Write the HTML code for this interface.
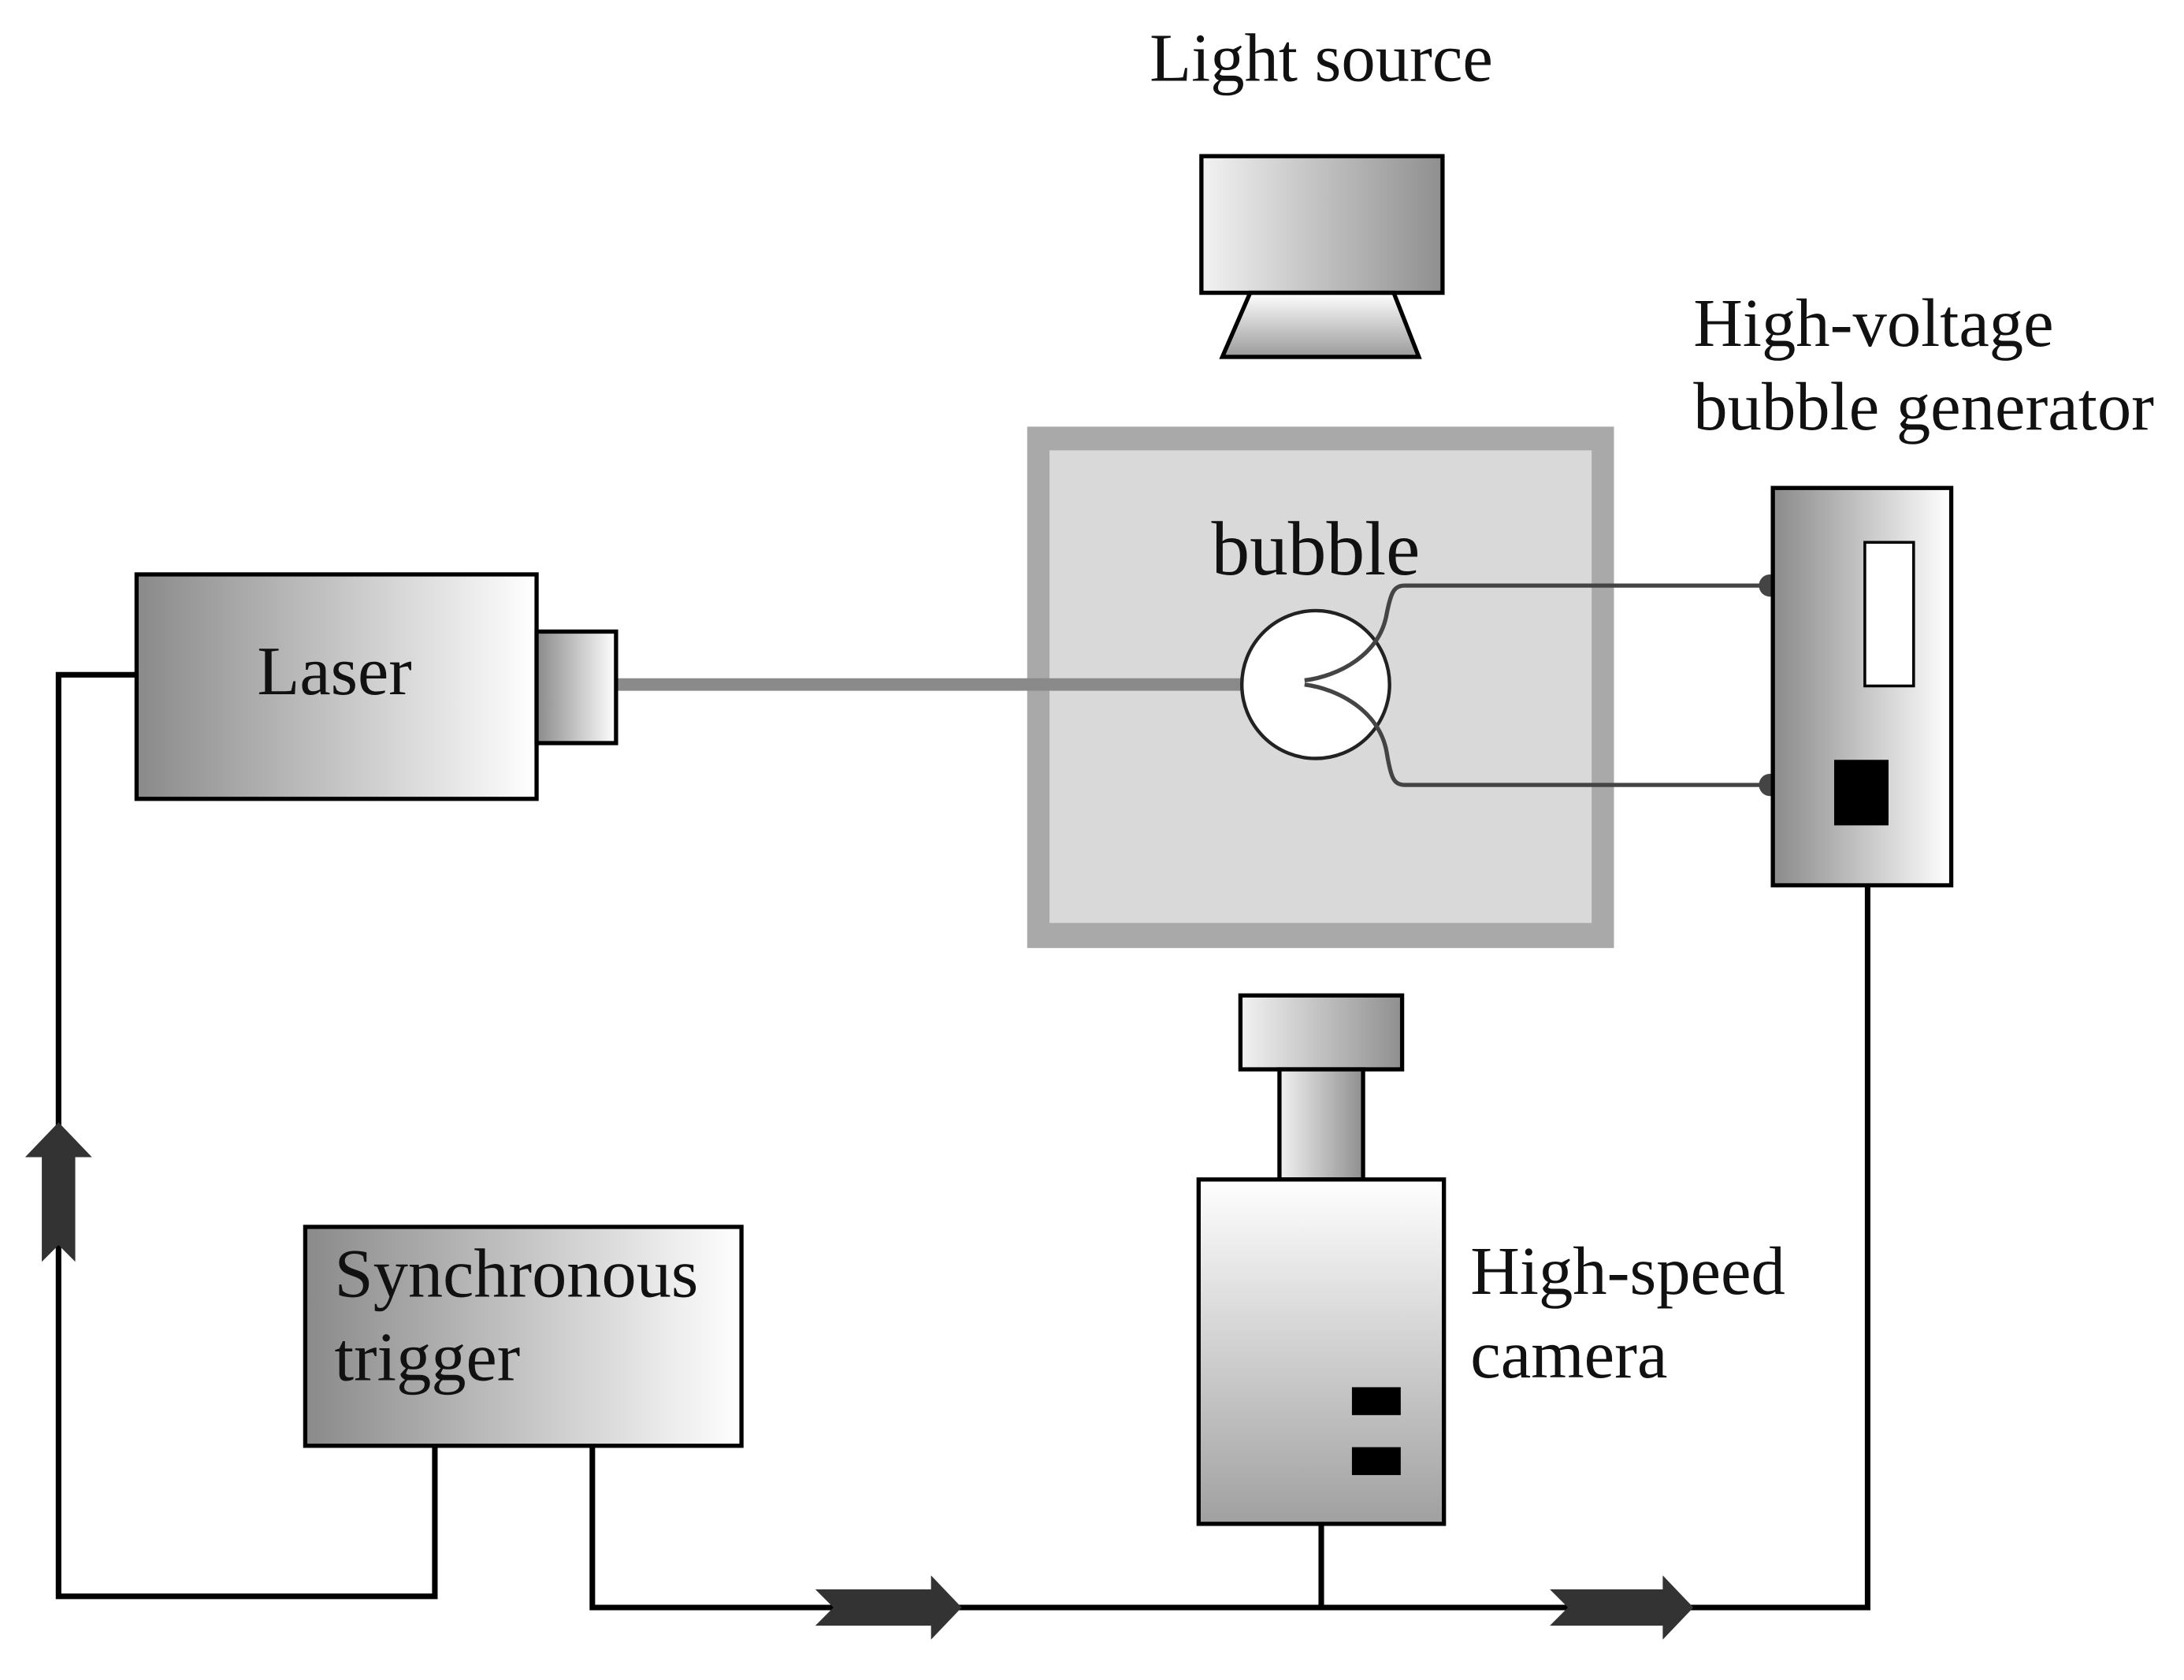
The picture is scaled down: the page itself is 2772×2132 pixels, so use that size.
<!DOCTYPE html>
<html><head><meta charset="utf-8"><style>
html,body{margin:0;padding:0;background:#fff;}
svg{display:block;}
text{font-family:"Liberation Serif",serif;fill:#111;}
</style></head><body>
<svg width="2772" height="2132" viewBox="0 0 1567 1205" preserveAspectRatio="none" xmlns="http://www.w3.org/2000/svg">
<defs>
<linearGradient id="dl" x1="0" x2="1" y1="0" y2="0"><stop offset="0" stop-color="#8a8a8a"/><stop offset="1" stop-color="#ffffff"/></linearGradient>
<linearGradient id="ld" x1="0" x2="1" y1="0" y2="0"><stop offset="0" stop-color="#f2f2f2"/><stop offset="1" stop-color="#8f8f8f"/></linearGradient>
<linearGradient id="tb" x1="0" x2="0" y1="0" y2="1"><stop offset="0" stop-color="#ffffff"/><stop offset="1" stop-color="#9a9a9a"/></linearGradient>
<linearGradient id="cam" x1="0" x2="0" y1="0" y2="1"><stop offset="0" stop-color="#ffffff"/><stop offset="1" stop-color="#a0a0a0"/></linearGradient>
</defs>

<text x="948" y="58" font-size="49" text-anchor="middle">Light source</text>
<rect x="862" y="112" width="173" height="98" fill="url(#ld)" stroke="#000" stroke-width="3"/>
<polygon points="897,210 1000,210 1018,256 877,256" fill="url(#tb)" stroke="#000" stroke-width="3"/>

<rect x="737" y="306" width="421" height="374" fill="#a9a9a9"/>
<rect x="753" y="323" width="389" height="339" fill="#d9d9d9"/>
<text x="944" y="412" font-size="55" text-anchor="middle">bubble</text>

<line x1="442" y1="491" x2="892" y2="491" stroke="#8a8a8a" stroke-width="9"/>
<circle cx="944" cy="491" r="53" fill="#fff" stroke="#222" stroke-width="2.5"/>
<path d="M936,488 C960,485 990,470 995,440 C998,425 1000,420 1008,420 L1270,420" fill="none" stroke="#444" stroke-width="3"/>
<path d="M936,491 C960,494 990,510 995,540 C998,558 1000,563 1008,563 L1270,563" fill="none" stroke="#444" stroke-width="3"/>
<circle cx="1270" cy="420" r="8" fill="#444"/>
<circle cx="1270" cy="563" r="8" fill="#444"/>

<rect x="98" y="412" width="287" height="161" fill="url(#dl)" stroke="#000" stroke-width="3"/>
<rect x="385" y="453" width="57" height="80" fill="url(#dl)" stroke="#000" stroke-width="3"/>
<text x="240" y="498" font-size="50" text-anchor="middle">Laser</text>

<text x="1215" y="248" font-size="49">High-voltage</text>
<text x="1215" y="308" font-size="49">bubble generator</text>
<rect x="1272" y="350" width="128" height="285" fill="url(#dl)" stroke="#000" stroke-width="3"/>
<rect x="1338" y="389" width="35" height="103" fill="#fff" stroke="#000" stroke-width="2"/>
<rect x="1316" y="545" width="39" height="47" fill="#000"/>

<rect x="890" y="714" width="116" height="53" fill="url(#ld)" stroke="#000" stroke-width="3"/>
<rect x="918" y="767" width="60" height="79" fill="url(#ld)" stroke="#000" stroke-width="3"/>
<rect x="860" y="846" width="176" height="247" fill="url(#cam)" stroke="#000" stroke-width="3"/>
<rect x="970" y="995" width="35" height="20" fill="#000"/>
<rect x="970" y="1038" width="35" height="20" fill="#000"/>
<text x="1055" y="928" font-size="49">High-speed</text>
<text x="1055" y="988" font-size="49">camera</text>

<rect x="219" y="880" width="313" height="157" fill="url(#dl)" stroke="#000" stroke-width="3"/>
<text x="240" y="930" font-size="50">Synchronous</text>
<text x="240" y="990" font-size="50">trigger</text>

<polyline points="98,484 42,484 42,1145 312,1145 312,1037" fill="none" stroke="#000" stroke-width="4"/>
<polyline points="425,1037 425,1153 1340,1153 1340,635" fill="none" stroke="#000" stroke-width="4"/>
<line x1="948" y1="1093" x2="948" y2="1153" stroke="#000" stroke-width="4"/>

<polygon points="42,805 66,830 54,830 54,905 42,893 30,905 30,830 18,830" fill="#333"/>
<polygon points="585,1140 668,1140 668,1130 690,1153 668,1176 668,1166 585,1166 598,1153" fill="#333"/>
<polygon points="1112,1140 1193,1140 1193,1130 1215,1153 1193,1176 1193,1166 1112,1166 1125,1153" fill="#333"/>
</svg>
</body></html>
